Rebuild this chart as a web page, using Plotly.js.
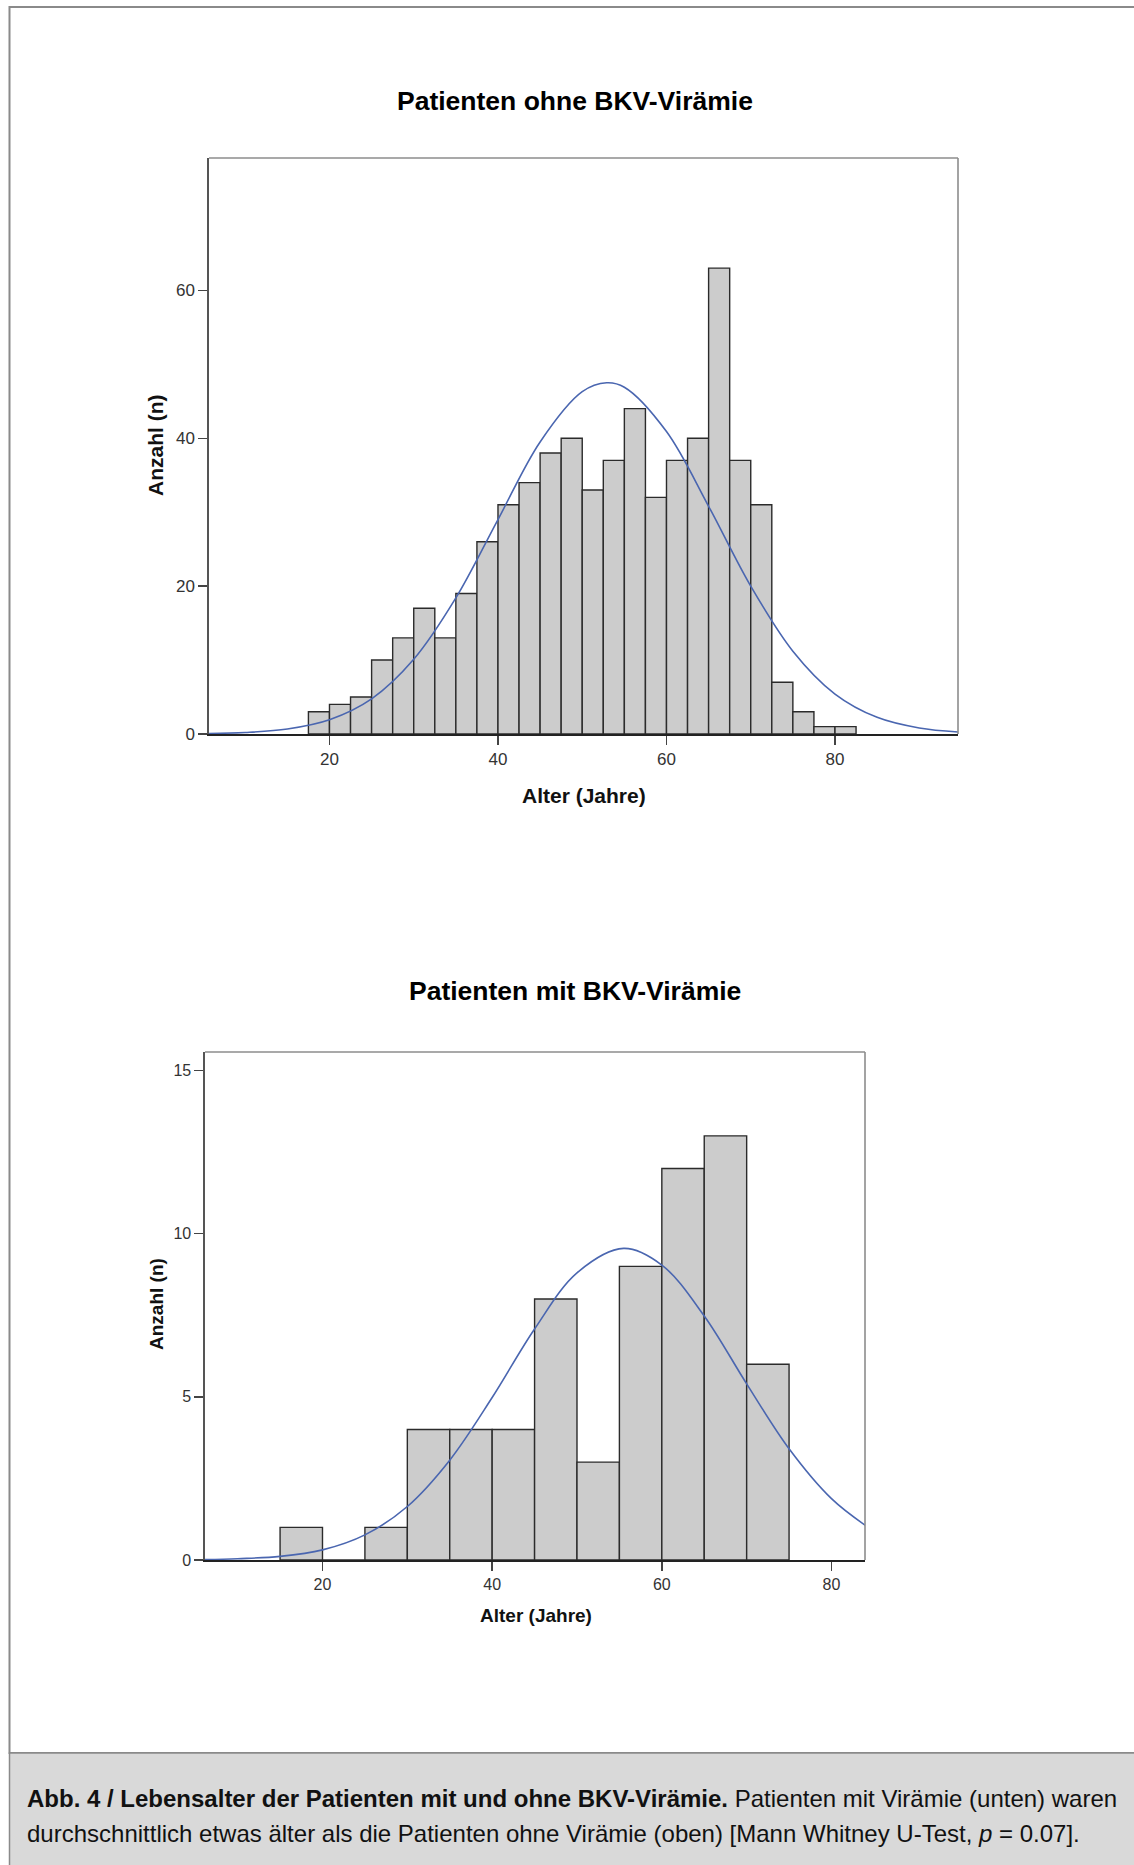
<!DOCTYPE html>
<html><head><meta charset="utf-8">
<script src="https://cdn.plot.ly/plotly-3.0.1.min.js"></script>
<style>html,body{margin:0;padding:0;background:#fff}</style>
</head><body><div id="chart" style="width:1134px;height:1865px"></div>
<script>
// ---- Data: Patienten ohne BKV-Virämie (bin width 2.5 years) ----
const binCentersOhne = [18.75, 21.25, 23.75, 26.25, 28.75, 31.25, 33.75, 36.25, 38.75, 41.25, 43.75, 46.25, 48.75,
                        51.25, 53.75, 56.25, 58.75, 61.25, 63.75, 66.25, 68.75, 71.25, 73.75, 76.25, 78.75, 81.25];
const countsOhne = [3, 4, 5, 10, 13, 17, 13, 19, 26, 31, 34, 38, 40, 33, 37, 44, 32, 37, 40, 63, 37, 31, 7, 3, 1, 1];
const binWidthOhne = 2.5;
// Normal curve
const curveAgeOhne = [5.7, 10, 15, 20, 25, 30, 35, 40, 45, 50, 52.9, 55, 60, 65, 70, 75, 80, 85, 90, 94.6];
const curveCountOhne = [0.07, 0.21, 0.68, 1.93, 4.75, 10.1, 18.4, 29.0, 39.5, 46.3, 47.5, 46.9, 40.9, 30.8, 20.0, 11.2, 5.4, 2.25, 0.81, 0.28];

// ---- Data: Patienten mit BKV-Virämie (bin width 5 years) ----
const binCentersMit = [17.5, 22.5, 27.5, 32.5, 37.5, 42.5, 47.5, 52.5, 57.5, 62.5, 67.5, 72.5];
const countsMit = [1, 0, 1, 4, 4, 4, 8, 3, 9, 12, 13, 6];
const binWidthMit = 5;
const curveAgeMit = [6.15, 10, 15, 20, 25, 30, 35, 40, 45, 50, 55.5, 60, 65, 70, 75, 80, 84];
const curveCountMit = [0.01, 0.04, 0.11, 0.31, 0.77, 1.64, 3.06, 4.98, 7.08, 8.80, 9.55, 9.04, 7.48, 5.40, 3.41, 1.88, 1.06];

// ---- Ticks and texts ----
const xTickVals = [20, 40, 60, 80];
const yTickValsOhne = [0, 20, 40, 60];
const yTickValsMit = [0, 5, 10, 15];
const titleOhne = 'Patienten ohne BKV-Virämie';
const titleMit = 'Patienten mit BKV-Virämie';
const xTitle = 'Alter (Jahre)';
const yTitle = 'Anzahl (n)';
const captionLine1 = '<b>Abb. 4 / Lebensalter der Patienten mit und ohne BKV-Virämie.</b> Patienten mit Virämie (unten) waren';
const captionLine2 = 'durchschnittlich etwas älter als die Patienten ohne Virämie (oben) [Mann Whitney U-Test, <i>p</i> = 0.07].';

// ---- Layout helpers ----
const W = 1134, H = 1865;
const fx = p => p / W;
const fy = p => 1 - p / H;
const SANS = '"Liberation Sans", Arial, sans-serif';
const barFill = '#cccccc', barLine = '#2b2b2b', curveColor = '#4A66B0';

const traces = [
  {type: 'bar', x: binCentersOhne, y: countsOhne, width: binWidthOhne, xaxis: 'x', yaxis: 'y',
   marker: {color: barFill, line: {color: barLine, width: 1.4}}, hoverinfo: 'skip'},
  {type: 'scatter', mode: 'lines', x: curveAgeOhne, y: curveCountOhne, xaxis: 'x', yaxis: 'y',
   line: {color: curveColor, width: 1.6, shape: 'spline', smoothing: 1}, hoverinfo: 'skip'},
  {type: 'bar', x: binCentersMit, y: countsMit, width: binWidthMit, xaxis: 'x2', yaxis: 'y2',
   marker: {color: barFill, line: {color: barLine, width: 1.4}}, hoverinfo: 'skip'},
  {type: 'scatter', mode: 'lines', x: curveAgeMit, y: curveCountMit, xaxis: 'x2', yaxis: 'y2',
   line: {color: curveColor, width: 1.6, shape: 'spline', smoothing: 1}, hoverinfo: 'skip'}
];

function xAxis(domain, range, anchor, size) {
  return {domain: domain, range: range, anchor: anchor, tickvals: xTickVals, ticks: 'outside', ticklen: 9,
    tickwidth: 1.4, tickcolor: '#444', showgrid: false, zeroline: false, showline: true, linecolor: '#222',
    linewidth: 1.6, tickfont: {family: SANS, size: size, color: '#333'}, fixedrange: true};
}
function yAxis(domain, range, anchor, ticks, size) {
  return {domain: domain, range: range, anchor: anchor, tickvals: ticks, ticks: 'outside', ticklen: 9,
    tickwidth: 1.4, tickcolor: '#444', showgrid: false, zeroline: false, showline: true, linecolor: '#555',
    linewidth: 1.6, tickfont: {family: SANS, size: size, color: '#333'}, fixedrange: true};
}

const layout = {
  width: W, height: H, autosize: false,
  margin: {l: 0, r: 0, t: 0, b: 0},
  paper_bgcolor: '#ffffff', plot_bgcolor: '#ffffff',
  showlegend: false, hovermode: false, bargap: 0,
  xaxis: xAxis([fx(209), fx(958)], [5.7, 94.6], 'y', 17),
  yaxis: yAxis([fy(734), fy(158)], [0, 77.9], 'x', yTickValsOhne, 17),
  xaxis2: xAxis([fx(205), fx(865)], [6.15, 83.95], 'y2', 16),
  yaxis2: yAxis([fy(1560), fy(1052)], [0, 15.57], 'x2', yTickValsMit, 16),
  shapes: [
    // outer frame
    {type: 'rect', xref: 'paper', yref: 'paper', x0: fx(9.5), x1: fx(1140), y0: fy(1753), y1: fy(7),
     line: {color: '#8a8a8a', width: 2}, fillcolor: 'rgba(0,0,0,0)', layer: 'below'},
    // caption box
    {type: 'rect', xref: 'paper', yref: 'paper', x0: fx(9.5), x1: fx(1140), y0: fy(1870), y1: fy(1753),
     line: {color: '#8a8a8a', width: 1.5}, fillcolor: '#d9d9d9', layer: 'below'},
    // plot frames (top and right sides)
    {type: 'line', xref: 'x domain', yref: 'y domain', x0: 0, x1: 1, y0: 1, y1: 1, line: {color: '#8c8c8c', width: 1.6}},
    {type: 'line', xref: 'x domain', yref: 'y domain', x0: 1, x1: 1, y0: 0, y1: 1, line: {color: '#8c8c8c', width: 1.6}},
    {type: 'line', xref: 'x2 domain', yref: 'y2 domain', x0: 0, x1: 1, y0: 1, y1: 1, line: {color: '#8c8c8c', width: 1.6}},
    {type: 'line', xref: 'x2 domain', yref: 'y2 domain', x0: 1, x1: 1, y0: 0, y1: 1, line: {color: '#8c8c8c', width: 1.6}}
  ],
  annotations: [
    {text: titleOhne, xref: 'paper', yref: 'paper', x: fx(575), y: fy(101), xanchor: 'center', yanchor: 'middle',
     showarrow: false, font: {family: SANS, size: 26.5, color: '#000', weight: 'bold'}},
    {text: titleMit, xref: 'paper', yref: 'paper', x: fx(575), y: fy(991), xanchor: 'center', yanchor: 'middle',
     showarrow: false, font: {family: SANS, size: 26.5, color: '#000', weight: 'bold'}},
    {text: '<b>' + yTitle + '</b>', xref: 'paper', yref: 'paper', x: fx(155), y: fy(446), xanchor: 'center', yanchor: 'middle',
     textangle: -90, showarrow: false, font: {family: SANS, size: 21, color: '#111'}},
    {text: '<b>' + xTitle + '</b>', xref: 'paper', yref: 'paper', x: fx(584), y: fy(795), xanchor: 'center', yanchor: 'middle',
     showarrow: false, font: {family: SANS, size: 21, color: '#111'}},
    {text: '<b>' + yTitle + '</b>', xref: 'paper', yref: 'paper', x: fx(156), y: fy(1304), xanchor: 'center', yanchor: 'middle',
     textangle: -90, showarrow: false, font: {family: SANS, size: 19, color: '#111'}},
    {text: '<b>' + xTitle + '</b>', xref: 'paper', yref: 'paper', x: fx(536), y: fy(1615), xanchor: 'center', yanchor: 'middle',
     showarrow: false, font: {family: SANS, size: 19, color: '#111'}},
    {text: captionLine1, xref: 'paper', yref: 'paper', x: fx(25), y: fy(1798), xanchor: 'left', yanchor: 'middle',
     showarrow: false, font: {family: SANS, size: 24, color: '#111'}},
    {text: captionLine2, xref: 'paper', yref: 'paper', x: fx(25), y: fy(1833), xanchor: 'left', yanchor: 'middle',
     showarrow: false, font: {family: SANS, size: 24, color: '#111'}}
  ]
};

Plotly.newPlot('chart', traces, layout, {staticPlot: true, displayModeBar: false});
</script>
</body></html>
